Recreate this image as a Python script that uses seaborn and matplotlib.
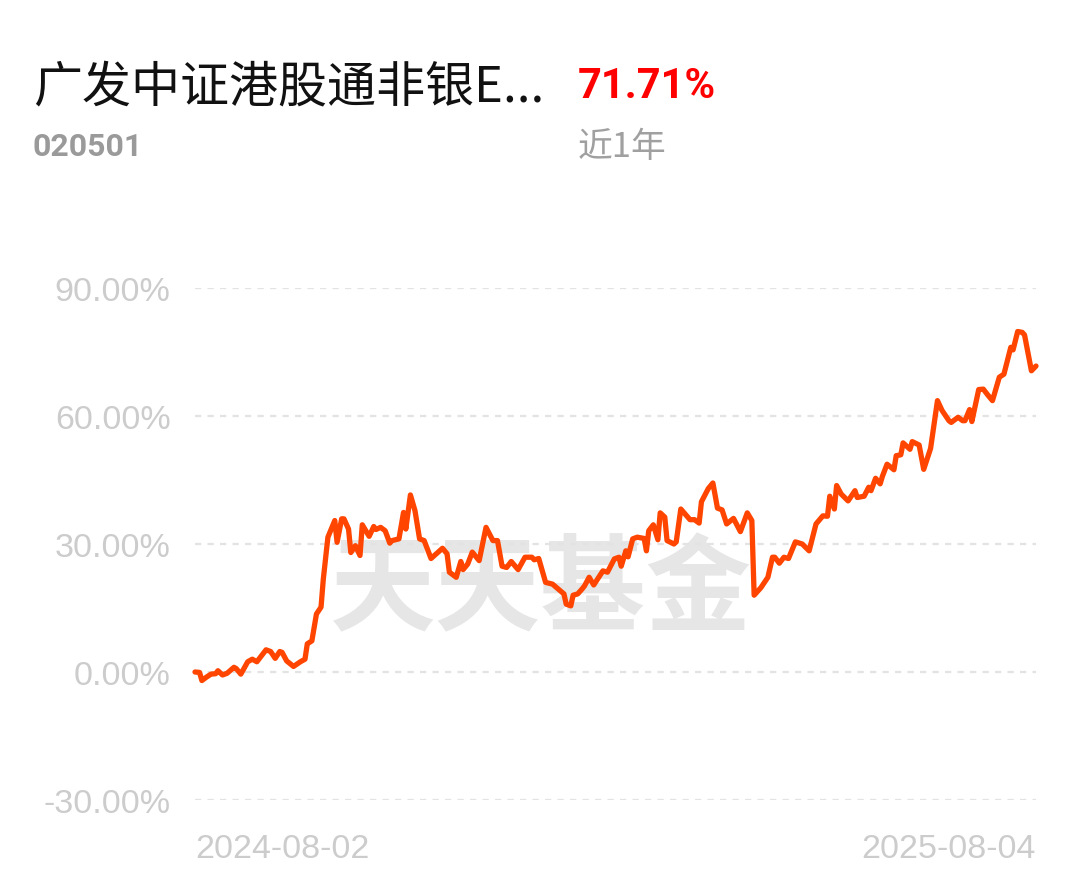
import matplotlib
matplotlib.use("Agg")
import matplotlib.pyplot as plt
import seaborn as sns
import pandas as pd
import numpy as np

# ---------------- data ----------------
start_date = "2024-08-02"
end_date = "2025-08-04"
day_offsets = [0, 2, 3, 5, 7, 9, 10, 12, 14, 17, 18, 20, 23, 25, 27, 31, 33, 35, 37, 38,
               40, 43, 46, 48, 49, 51, 53, 55, 56, 58, 61, 62, 64, 65, 67, 68, 70, 72, 73, 76,
               78, 79, 81, 83, 85, 86, 89, 91, 92, 94, 96, 98, 100, 103, 108, 110, 111, 114, 116, 117,
               119, 121, 124, 127, 130, 132, 134, 136, 138, 141, 144, 147, 148, 150, 153, 156, 161, 162, 164, 165,
               167, 169, 170, 172, 174, 178, 180, 183, 185, 186, 188, 189, 191, 193, 196, 197, 198, 200, 202, 203,
               205, 206, 209, 210, 212, 216, 218, 220, 221, 224, 226, 228, 230, 232, 235, 238, 241, 243, 244, 247,
               250, 252, 253, 255, 257, 259, 262, 265, 268, 271, 274, 276, 277, 279, 280, 282, 285, 288, 289, 292,
               294, 295, 297, 299, 300, 302, 305, 306, 308, 309, 312, 313, 316, 318, 321, 324, 326, 329, 330, 333,
               335, 336, 338, 339, 342, 344, 346, 348, 350, 351, 353, 356, 357, 359, 361, 362, 365, 367]
returns = [0.0, -0.1, -2.0, -1.2, -0.5, -0.4, 0.3, -0.7, -0.3, 1.1, 0.8, -0.5, 2.4, 3.0, 2.4, 5.2, 4.8, 3.2, 4.8, 4.6,
           2.6, 1.3, 2.4, 3.0, 6.6, 7.3, 13.6, 15.2, 21.8, 31.6, 35.5, 30.4, 35.9, 35.9, 33.5, 28.0, 29.6, 27.3, 34.5, 31.8,
           34.1, 33.4, 33.9, 33.1, 30.2, 30.8, 31.2, 37.4, 33.5, 41.5, 37.8, 31.2, 30.8, 26.6, 29.0, 27.7, 23.4, 22.2, 25.9, 24.0,
           25.3, 28.1, 26.1, 33.9, 30.8, 30.8, 24.8, 24.5, 25.9, 24.0, 26.9, 26.9, 26.3, 26.6, 21.0, 20.6, 18.3, 15.9, 15.5, 18.0,
           18.3, 19.5, 20.2, 22.2, 20.4, 23.7, 23.4, 26.5, 26.9, 24.8, 28.4, 27.0, 31.2, 31.6, 31.3, 28.4, 33.1, 34.5, 31.0, 37.3,
           36.3, 30.8, 30.0, 30.5, 38.2, 35.7, 35.7, 34.9, 39.9, 43.0, 44.3, 38.4, 38.0, 34.7, 36.0, 32.9, 37.3, 35.5, 18.0, 19.8,
           22.2, 26.9, 26.9, 25.5, 26.9, 26.6, 30.5, 30.0, 28.4, 34.7, 36.6, 36.5, 41.2, 38.2, 43.7, 41.7, 40.1, 42.5, 40.9, 41.2,
           43.3, 42.5, 45.4, 44.1, 45.9, 48.7, 47.4, 50.7, 50.9, 53.7, 52.2, 54.0, 53.2, 47.5, 52.4, 63.6, 61.3, 58.9, 58.5, 59.7,
           58.9, 58.9, 61.5, 58.7, 66.2, 66.3, 64.9, 63.6, 67.3, 69.1, 69.8, 76.1, 75.5, 79.8, 79.6, 79.0, 70.6, 71.71]
y_ticks = [-30, 0, 30, 60, 90]
y_tick_labels = ["-30.00%", "0.00%", "30.00%", "60.00%", "90.00%"]
x_tick_labels = ["2024-08-02", "2025-08-04"]
fund_name = "广发中证港股通非银E..."
fund_code = "020501"
period_return = "71.71%"
period_label = "近1年"
watermark = "天天基金"

# ---------------- figure ----------------
sns.set_theme(style="white")
plt.rcParams["font.family"] = ["Liberation Sans", "Noto Sans CJK SC", "DejaVu Sans"]
plt.rcParams["lines.scale_dashes"] = False

W, H = 1080, 878
fig = plt.figure(figsize=(W / 100, H / 100), dpi=100)
fig.patch.set_facecolor("white")

def fx(px):
    return px / W

def fy(py):
    return 1 - py / H

ax = fig.add_axes([fx(195), fy(801), fx(1036) - fx(195), fy(289) - fy(801)])
ax.set_facecolor("none")

dates = pd.Timestamp(start_date) + pd.to_timedelta(day_offsets, unit="D")
df = pd.DataFrame({"date": dates, "ret": returns})

# watermark (behind grid and line)
ax.text(fx(541), fy(592), watermark, transform=fig.transFigure, ha="center", va="center",
        fontsize=76, fontweight="bold", color="#e6e6e6", family=["Noto Sans CJK SC"],
        zorder=0.2, clip_on=False)

sns.lineplot(data=df, x="date", y="ret", ax=ax, color="#ff4500", linewidth=3.8,
             zorder=3, clip_on=False)

ax.set_xlim(pd.Timestamp(start_date), pd.Timestamp(end_date))
ax.set_ylim(-30, 90)
ax.set_yticks(y_ticks)
ax.set_yticklabels(y_tick_labels)
ax.set_xticks([pd.Timestamp(start_date), pd.Timestamp(end_date)])
ax.set_xticklabels(x_tick_labels)
xt = ax.get_xticklabels()
xt[0].set_ha("left")
xt[1].set_ha("right")
ax.tick_params(axis="y", length=0, pad=17.5, labelsize=24.5, labelcolor="#cccccc")
ax.tick_params(axis="x", length=0, pad=23.5, labelsize=24.5, labelcolor="#cccccc")
ax.set_xlabel("")
ax.set_ylabel("")
for s in ax.spines.values():
    s.set_visible(False)
ax.yaxis.grid(True, color="#e3e3e3", linewidth=1.6, linestyle=(0, (4.5, 4.5)), zorder=1)
ax.xaxis.grid(False)
ax.set_axisbelow(True)

# header texts
fig.text(fx(33), fy(88), fund_name, ha="left", va="center", fontsize=35.3,
         color="#111111", family=["Noto Sans CJK SC", "DejaVu Sans"])
fig.text(fx(578), fy(86), period_return, ha="left", va="center", fontsize=30,
         fontweight="bold", color="#ff0000", family=["Roboto"])
fig.text(fx(33), fy(147), fund_code, ha="left", va="center", fontsize=23,
         fontweight="bold", color="#9a9a9a", family=["Roboto"])
fig.text(fx(578), fy(148), period_label, ha="left", va="center", fontsize=25,
         color="#a0a0a0", family=["Noto Sans CJK SC", "DejaVu Sans"])

fig.savefig("out.png", dpi=100, facecolor="white")
